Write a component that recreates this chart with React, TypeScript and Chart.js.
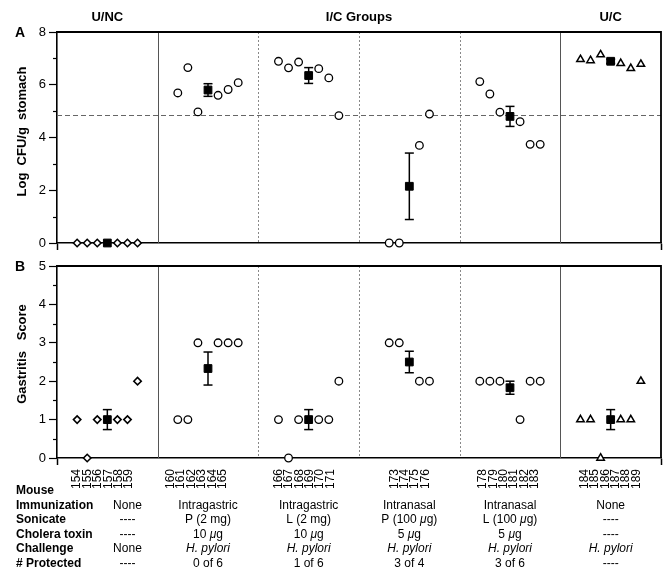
import React, { useEffect, useRef } from 'react';
import { Chart, registerables } from 'chart.js';
Chart.register(...registerables);

// ---------------- data ----------------
const GROUP_HEADERS = ['U/NC', 'I/C Groups', 'U/C'];

const MICE_UNC = [154, 155, 156, 157, 158, 159];
const MICE_IG_P = [160, 161, 162, 163, 164, 165];
const MICE_IG_L = [166, 167, 168, 169, 170, 171];
const MICE_IN_P = [173, 174, 175, 176];
const MICE_IN_L = [178, 179, 180, 181, 182, 183];
const MICE_UC = [184, 185, 186, 187, 188, 189];

// Panel A: Log CFU/g stomach
const CFU_UNC = [0, 0, 0, 0, 0, 0];
const CFU_IG_P = [5.69, 6.65, 4.97, 5.6, 5.82, 6.08];
const CFU_IG_L = [6.89, 6.64, 6.86, 6.61, 6.26, 4.83];
const CFU_IN_P = [0, 0, 3.7, 4.89];
const CFU_IN_L = [6.12, 5.65, 4.96, 4.6, 3.74, 3.74];
const CFU_UC = [6.96, 6.92, 7.14, 6.81, 6.62, 6.78];
const CFU_MEAN = [0, 5.8, 6.35, 2.15, 4.8, 6.89];
const CFU_SEM = [0, 0.24, 0.3, 1.26, 0.38, 0.08];
const CFU_THRESHOLD = 4.87;

// Panel B: Gastritis score
const SCORE_UNC = [1, 0, 1, 1, 1, 2];
const SCORE_IG_P = [1, 1, 3, 3, 3, 3];
const SCORE_IG_L = [1, 0, 1, 1, 1, 2];
const SCORE_IN_P = [3, 3, 2, 2];
const SCORE_IN_L = [2, 2, 2, 1, 2, 2];
const SCORE_UC = [1, 1, 0, 1, 1, 2];
const SCORE_MEAN = [1.0, 2.33, 1.0, 2.5, 1.83, 1.0];
const SCORE_SEM = [0.26, 0.43, 0.26, 0.28, 0.17, 0.26];

// Table
const ROW_LABELS = ['Mouse', 'Immunization', 'Sonicate', 'Cholera toxin', 'Challenge', '# Protected'];
const IMMUNIZATION = ['None', 'Intragastric', 'Intragastric', 'Intranasal', 'Intranasal', 'None'];
const SONICATE = ['----', 'P (2 mg)', 'L (2 mg)', 'P (100 \u03BCg)', 'L (100 \u03BCg)', '----'];
const CHOLERA_TOXIN = ['----', '10 \u03BCg', '10 \u03BCg', '5 \u03BCg', '5 \u03BCg', '----'];
const CHALLENGE = ['None', 'H. pylori', 'H. pylori', 'H. pylori', 'H. pylori', 'H. pylori'];
const PROTECTED = ['----', '0 of 6', '1 of 6', '3 of 4', '3 of 6', '----'];

const MICE = [MICE_UNC, MICE_IG_P, MICE_IG_L, MICE_IN_P, MICE_IN_L, MICE_UC];
const CFU = [CFU_UNC, CFU_IG_P, CFU_IG_L, CFU_IN_P, CFU_IN_L, CFU_UC];
const SCORE = [SCORE_UNC, SCORE_IG_P, SCORE_IG_L, SCORE_IN_P, SCORE_IN_L, SCORE_UC];

// ---------------- layout helpers ----------------
const FF = '"Liberation Sans", Arial, Helvetica, sans-serif';
const GROUP_W = 10;
const N_GROUPS = 6;
const groupCenter = (g: number) => g * GROUP_W + GROUP_W / 2;
const slotOffsets = (n: number) => {
  const h = n / 2;
  const out: number[] = [];
  for (let i = 0; i < n; i++) out.push(i < h ? i - h : i - h + 1);
  return out;
};
// where the mouse-number labels start inside each group (axis units)
const LABEL_START = [2.0, 11.3, 22.0, 33.5, 42.3, 52.4];
const LABEL_STEP = 1.03;

const tickValues: number[] = [0];
const tickLabels: string[] = [''];
MICE.forEach((ms, g) => {
  ms.forEach((m, i) => {
    tickValues.push(LABEL_START[g] + i * LABEL_STEP);
    tickLabels.push(String(m));
  });
});
tickValues.push(N_GROUPS * GROUP_W);
tickLabels.push('');

const pts = (groups: number[], vals: number[][]) =>
  groups.flatMap((g) => {
    const offs = slotOffsets(vals[g].length);
    return vals[g].map((v, i) => ({ x: groupCenter(g) + offs[i], y: v }));
  });

const errData = (means: number[], sems: number[]) =>
  means.flatMap((m, g) =>
    sems[g] > 0
      ? [
          { x: groupCenter(g), y: m - sems[g] },
          { x: groupCenter(g), y: m + sems[g] },
          { x: groupCenter(g), y: null as any },
        ]
      : []
  );

const makeDatasets = (vals: number[][], means: number[], sems: number[]) => [
  {
    type: 'scatter',
    label: 'Mean',
    data: means.map((m, g) => ({ x: groupCenter(g), y: m })),
    pointStyle: 'rect',
    pointRadius: 5.5,
    pointBackgroundColor: '#000',
    pointBorderColor: '#000',
    pointBorderWidth: 1,
    order: 0,
    clip: false,
  },
  {
    type: 'line',
    label: 'SEM',
    data: errData(means, sems),
    borderColor: '#000',
    borderWidth: 1.5,
    pointStyle: 'line',
    pointRadius: 4.5,
    pointBorderWidth: 1.5,
    pointBorderColor: '#000',
    spanGaps: false,
    showLine: true,
    fill: false,
    order: 1,
    clip: false,
  },
  {
    type: 'scatter',
    label: 'U/NC',
    data: pts([0], vals),
    pointStyle: 'rectRot',
    pointRadius: 3.7,
    pointBackgroundColor: '#fff',
    pointBorderColor: '#000',
    pointBorderWidth: 1.6,
    order: 2,
    clip: false,
  },
  {
    type: 'scatter',
    label: 'I/C',
    data: pts([1, 2, 3, 4], vals),
    pointStyle: 'circle',
    pointRadius: 3.8,
    pointBackgroundColor: '#fff',
    pointBorderColor: '#000',
    pointBorderWidth: 1.3,
    order: 2,
    clip: false,
  },
  {
    type: 'scatter',
    label: 'U/C',
    data: pts([5], vals),
    pointStyle: 'triangle',
    pointRadius: 4.3,
    pointBackgroundColor: '#fff',
    pointBorderColor: '#000',
    pointBorderWidth: 1.5,
    order: 2,
    clip: false,
  },
];

function drawRich(ctx: CanvasRenderingContext2D, text: string, cx: number, cy: number, size: number) {
  const segs: { t: string; it: boolean; w?: number }[] = [];
  if (text.startsWith('H. ')) segs.push({ t: text, it: true });
  else {
    text.split('\u03BC').forEach((p, i) => {
      if (i > 0) segs.push({ t: '\u03BC', it: true });
      if (p) segs.push({ t: p, it: false });
    });
  }
  const fontOf = (it: boolean) => `${it ? 'italic ' : ''}${size}px ${FF}`;
  let w = 0;
  for (const s of segs) {
    ctx.font = fontOf(s.it);
    s.w = ctx.measureText(s.t).width;
    w += s.w;
  }
  let x = cx - w / 2;
  ctx.textAlign = 'left';
  ctx.textBaseline = 'middle';
  for (const s of segs) {
    ctx.font = fontOf(s.it);
    ctx.fillText(s.t, x, cy);
    x += s.w || 0;
  }
}

const panelPlugin = {
  id: 'panelDecor',
  beforeDatasetsDraw(chart: any, _args: any, opts: any) {
    const { ctx, chartArea: ca } = chart;
    const x = chart.scales.x;
    const y = chart.scales.y;
    ctx.save();
    for (let g = 1; g < N_GROUPS; g++) {
      const px = Math.round(x.getPixelForValue(g * GROUP_W)) + 0.5;
      ctx.beginPath();
      if (g === 1 || g === N_GROUPS - 1) {
        ctx.setLineDash([]);
        ctx.strokeStyle = '#555';
      } else {
        ctx.setLineDash([2, 2]);
        ctx.strokeStyle = '#888';
      }
      ctx.lineWidth = 1;
      ctx.moveTo(px, ca.top);
      ctx.lineTo(px, ca.bottom);
      ctx.stroke();
    }
    if (opts.panel === 'A') {
      const py = Math.round(y.getPixelForValue(CFU_THRESHOLD)) + 0.5;
      ctx.beginPath();
      ctx.setLineDash([5, 3]);
      ctx.strokeStyle = '#666';
      ctx.lineWidth = 1;
      ctx.moveTo(ca.left, py);
      ctx.lineTo(ca.right, py);
      ctx.stroke();
    }
    ctx.restore();
  },
  afterDraw(chart: any, _args: any, opts: any) {
    const { ctx, chartArea: ca } = chart;
    const x = chart.scales.x;
    const y = chart.scales.y;
    ctx.save();
    ctx.setLineDash([]);
    ctx.strokeStyle = '#000';
    // top and right frame
    ctx.lineWidth = 1.8;
    ctx.beginPath();
    ctx.moveTo(ca.left, ca.top);
    ctx.lineTo(ca.right, ca.top);
    ctx.lineTo(ca.right, ca.bottom);
    ctx.stroke();
    // minor ticks
    ctx.lineWidth = 1.2;
    const isA = opts.panel === 'A';
    const minors = isA ? [1, 3, 5, 7] : [0.5, 1.5, 2.5, 3.5, 4.5];
    for (const v of minors) {
      const py = Math.round(y.getPixelForValue(v)) + 0.5;
      ctx.beginPath();
      ctx.moveTo(ca.left - 4, py);
      ctx.lineTo(ca.left, py);
      ctx.stroke();
    }
    ctx.fillStyle = '#000';
    // panel letter
    ctx.font = `bold 14px ${FF}`;
    ctx.textAlign = 'left';
    ctx.textBaseline = 'middle';
    ctx.fillText(isA ? 'A' : 'B', 15, ca.top + 1.5);
    // y title
    ctx.save();
    ctx.font = `bold 13px ${FF}`;
    ctx.textAlign = 'center';
    ctx.textBaseline = 'middle';
    ctx.translate(22.5, (ca.top + ca.bottom) / 2 + (isA ? -6 : -8));
    ctx.rotate(-Math.PI / 2);
    ctx.fillText(isA ? 'Log  CFU/g  stomach' : 'Gastritis   Score', 0, 0);
    ctx.restore();
    if (isA) {
      ctx.font = `bold 13px ${FF}`;
      ctx.textAlign = 'center';
      ctx.textBaseline = 'middle';
      ctx.fillText(GROUP_HEADERS[0], x.getPixelForValue(groupCenter(0)), 17.5);
      ctx.fillText(GROUP_HEADERS[1], x.getPixelForValue(3 * GROUP_W), 17.5);
      ctx.fillText(GROUP_HEADERS[2], x.getPixelForValue(groupCenter(5)), 17.5);
    } else {
      const rows = [null, IMMUNIZATION, SONICATE, CHOLERA_TOXIN, CHALLENGE, PROTECTED];
      const y0 = ca.bottom + 32.7;
      const step = 14.5;
      rows.forEach((row, r) => {
        const ry = y0 + r * step;
        ctx.font = `bold 12px ${FF}`;
        ctx.textAlign = 'left';
        ctx.textBaseline = 'middle';
        ctx.fillText(ROW_LABELS[r], 16, ry);
        if (!row) return;
        row.forEach((txt, g) => {
          const cx = g === 0 ? x.getPixelForValue(7) : x.getPixelForValue(groupCenter(g));
          drawRich(ctx, txt, cx, ry, 12);
        });
      });
    }
    ctx.restore();
  },
};

const yScale = (max: number, step: number) => ({
  type: 'linear',
  min: 0,
  max,
  ticks: { stepSize: step, color: '#000', font: { family: FF, size: 13 }, padding: 3 },
  grid: { drawOnChartArea: false, tickLength: 8, tickColor: '#000', tickWidth: 1.2 },
  border: { color: '#000', width: 1.6 },
  afterFit: (s: any) => {
    s.width = 57;
    s.paddingTop = 0;
    s.paddingBottom = 0;
  },
});

function makeConfig(panel: 'A' | 'B'): any {
  const isA = panel === 'A';
  return {
    type: 'scatter',
    data: {
      datasets: isA ? makeDatasets(CFU, CFU_MEAN, CFU_SEM) : makeDatasets(SCORE, SCORE_MEAN, SCORE_SEM),
    },
    options: {
      responsive: false,
      animation: false,
      devicePixelRatio: 1,
      events: [],
      layout: { padding: { top: isA ? 32 : 10, right: 8, left: 0, bottom: 0 } },
      plugins: {
        legend: { display: false },
        tooltip: { enabled: false },
        panelDecor: { panel },
      },
      scales: {
        x: {
          type: 'linear',
          min: 0,
          max: N_GROUPS * GROUP_W,
          afterBuildTicks: (s: any) => {
            s.ticks = isA
              ? [{ value: 0 }, { value: N_GROUPS * GROUP_W }]
              : tickValues.map((v) => ({ value: v }));
          },
          ticks: {
            autoSkip: false,
            minRotation: isA ? 0 : 90,
            maxRotation: isA ? 0 : 90,
            padding: 4,
            color: '#000',
            font: { family: FF, size: 12 },
            callback: (_v: any, i: number) => (isA ? '' : tickLabels[i]),
          },
          grid: {
            drawOnChartArea: false,
            tickLength: 7,
            tickWidth: 1.5,
            tickColor: (c: any) =>
              c.tick && (c.tick.value === 0 || c.tick.value === N_GROUPS * GROUP_W) ? '#000' : 'rgba(0,0,0,0)',
          },
          border: { color: '#000', width: 1.6 },
          afterFit: (s: any) => {
            s.height = isA ? 13 : 119;
            s.paddingLeft = 0;
            s.paddingRight = 0;
          },
        },
        y: isA ? yScale(8, 2) : yScale(5, 1),
      },
    },
    plugins: [panelPlugin],
  };
}

export default function App() {
  const refA = useRef<HTMLCanvasElement>(null);
  const refB = useRef<HTMLCanvasElement>(null);
  useEffect(() => {
    const a = new Chart(refA.current as HTMLCanvasElement, makeConfig('A'));
    const b = new Chart(refB.current as HTMLCanvasElement, makeConfig('B'));
    return () => {
      a.destroy();
      b.destroy();
    };
  }, []);
  return (
    <div style={{ position: 'absolute', left: 0, top: 0, width: 669, height: 577, background: '#fff' }}>
      <canvas
        ref={refA}
        width={669}
        height={256}
        style={{ position: 'absolute', left: 0, top: 0, width: 669, height: 256 }}
      />
      <canvas
        ref={refB}
        width={669}
        height={321}
        style={{ position: 'absolute', left: 0, top: 256, width: 669, height: 321 }}
      />
    </div>
  );
}
